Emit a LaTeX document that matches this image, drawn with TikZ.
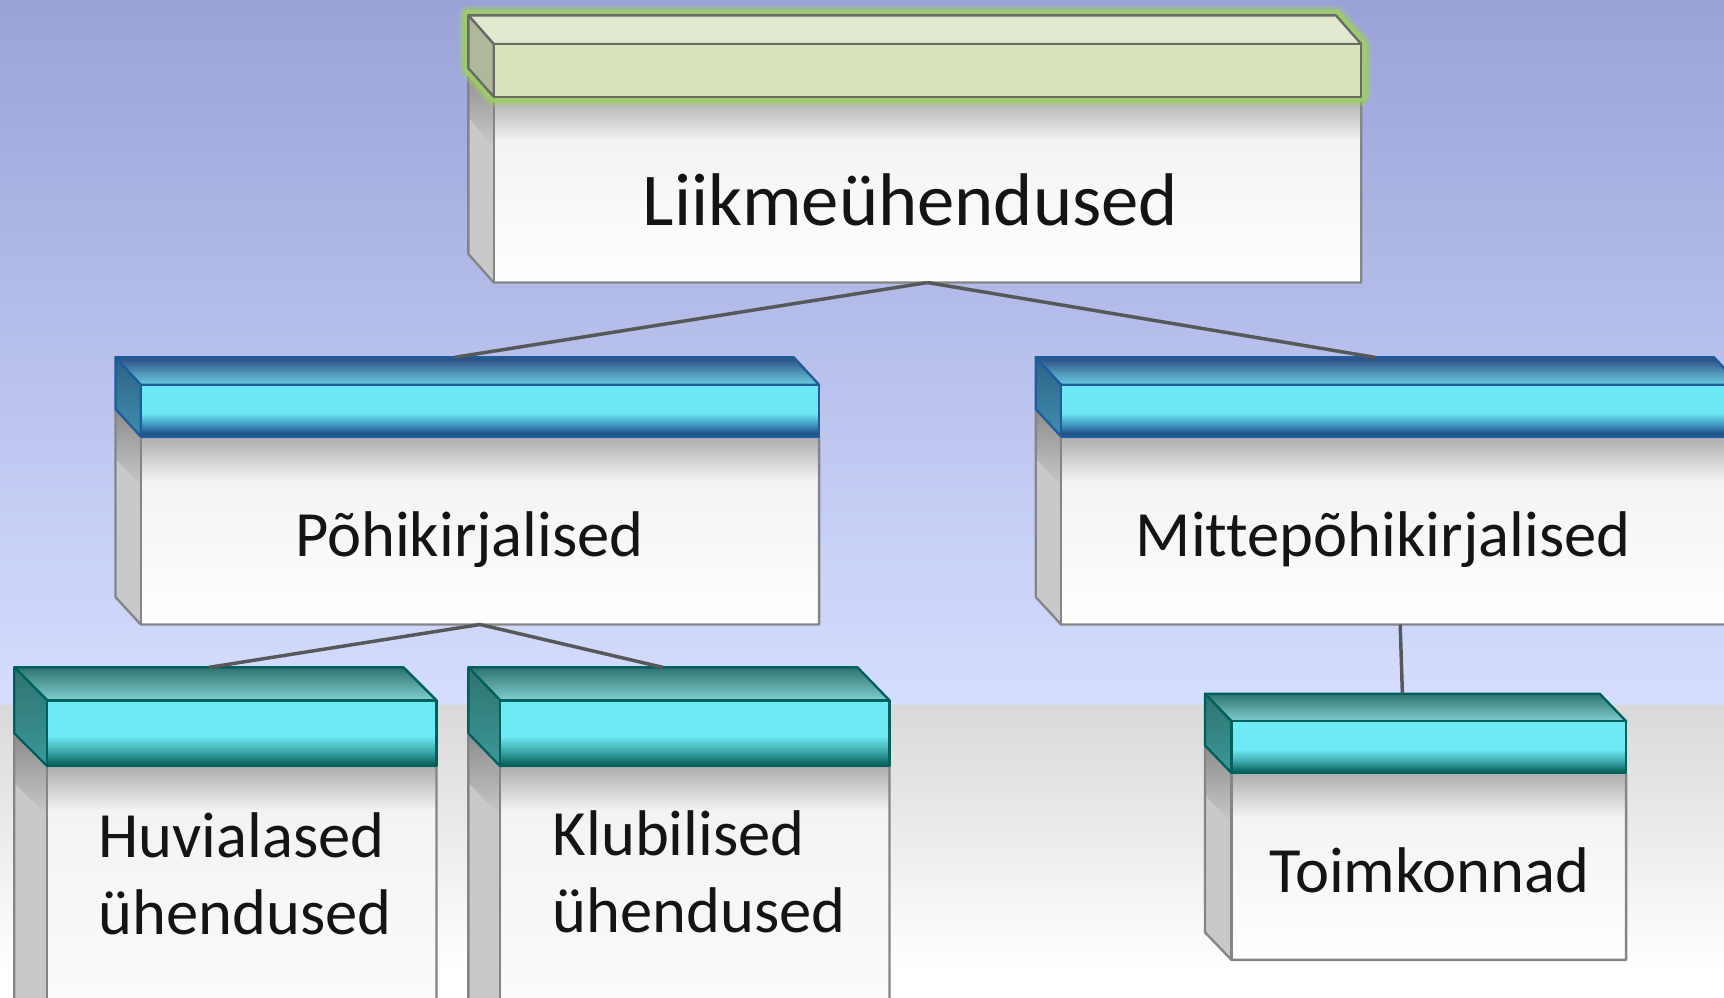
\documentclass[tikz,border=0pt]{standalone}
\usepackage{fontspec}
\setmainfont{Carlito}[Ligatures=NoCommon]
\definecolor{bnavy}{HTML}{1B3A72}
\definecolor{bmid}{HTML}{3C92BC}
\definecolor{bcyan}{HTML}{6EE8F5}
\definecolor{tdark}{HTML}{00554F}
\definecolor{tmid}{HTML}{3BA6A8}
\definecolor{tcyan}{HTML}{6EEAF5}
\definecolor{bTopA}{HTML}{2A4C82}
\definecolor{bTopB}{HTML}{6CCEE2}
\definecolor{bSideA}{HTML}{2E6285}
\definecolor{bSideM}{HTML}{58B8C6}
\definecolor{bSideB}{HTML}{3E8FB0}
\definecolor{bEdge}{HTML}{1F5C9C}
\definecolor{tTopA}{HTML}{2F7370}
\definecolor{tTopB}{HTML}{80CFD0}
\definecolor{tSideM}{HTML}{5ABCC0}
\definecolor{tSideB}{HTML}{3C9898}
\definecolor{tEdge}{HTML}{00615C}
\definecolor{gTop}{HTML}{E1E9CE}
\definecolor{gFront}{HTML}{D8E4BD}
\definecolor{gSide}{HTML}{AEB99A}
\definecolor{gEdge}{HTML}{6A6A6A}
\definecolor{gGlow}{HTML}{9ECF62}
\definecolor{bodyEdge}{HTML}{858585}
\definecolor{sideGray}{HTML}{C9C9C9}
\definecolor{sideDark}{HTML}{8C8C8C}
\definecolor{bandGray}{HTML}{ADADAD}
\definecolor{bodyLight}{HTML}{F3F3F3}
\definecolor{bgTop}{HTML}{9AA2D8}
\definecolor{bgMid}{HTML}{D5DEFF}
\definecolor{bgGray}{HTML}{D9D9D9}
\definecolor{connGray}{HTML}{585858}
\definecolor{txt}{HTML}{141414}
\pgfdeclareverticalshading{bluefront}{100bp}{color(0bp)=(bnavy); color(25bp)=(bnavy); color(36bp)=(bmid); color(48bp)=(bcyan); color(75bp)=(bcyan); color(100bp)=(bcyan)}
\pgfdeclareverticalshading{tealfront}{100bp}{color(0bp)=(tdark); color(25bp)=(tdark); color(36bp)=(tmid); color(48bp)=(tcyan); color(75bp)=(tcyan); color(100bp)=(tcyan)}
\tikzset{
  blue top/.style={top color=bTopA, bottom color=bTopB, draw=bEdge},
  blue side/.style={top color=bSideA, middle color=bSideM, bottom color=bSideB, draw=bEdge},
  blue front/.style={shading=bluefront, draw=bEdge},
  blue glow/.style={},
  blue halo/.style={},
  teal top/.style={top color=tTopA, bottom color=tTopB, draw=tEdge},
  teal side/.style={top color=tTopA, middle color=tSideM, bottom color=tSideB, draw=tEdge},
  teal front/.style={shading=tealfront, draw=tEdge},
  teal glow/.style={},
  teal halo/.style={},
  green top/.style={fill=gTop, draw=gEdge},
  green side/.style={fill=gSide, draw=gEdge},
  green front/.style={fill=gFront, draw=gEdge},
  green halo/.style={draw=gGlow, line width=5pt, opacity=.35, line join=round},
  green glow/.style={draw=gGlow, line width=3pt, opacity=.85, line join=round},
  edge/.style={draw=bodyEdge, line width=0.6pt, line join=round},
  conn/.style={draw=connGray, line width=0.9pt},
  lbl/.style={font=\fontsize{16.7}{19.9}\selectfont, text=txt, inner sep=0pt, align=left},
  lblbig/.style={font=\fontsize{19.3}{22}\selectfont, text=txt, inner sep=0pt},
}
% #1 name #2 x #3 y #4 w #5 header h #6 body h #7 dx #8 dy #9 scheme
\newcommand{\tdbox}[9]{%
  \pgfmathsetmacro\bxA{#2-#7}\pgfmathsetmacro\byA{#3-#8}%
  \pgfmathsetmacro\bxR{#2+#4}\pgfmathsetmacro\bxRA{#2+#4-#7}%
  \pgfmathsetmacro\byH{#3+#5}\pgfmathsetmacro\byB{#3+#5+#6}%
  \pgfmathsetmacro\byHA{#3+#5-#8}\pgfmathsetmacro\byBA{#3+#5+#6-#8}%
  % body side
  \fill[sideGray] (\bxA,\byHA) -- (#2,\byH) -- (#2,\byB) -- (\bxA,\byBA) -- cycle;
  \shade[top color=sideDark, bottom color=sideGray] (\bxA,\byHA) -- (#2,\byH) -- (#2,\byH+45) -- (\bxA,\byHA+45) -- cycle;
  % body front
  \shade[top color=bandGray, bottom color=bodyLight] (#2,\byH) rectangle (\bxR,\byH+40);
  \shade[top color=bodyLight, bottom color=white] (#2,\byH+40) rectangle (\bxR,\byB);
  \draw[edge] (\bxA,\byHA) -- (\bxA,\byBA) -- (#2,\byB) -- (\bxR,\byB) -- (\bxR,\byH);
  \draw[edge] (#2,\byH) -- (#2,\byB);
  % header
  \path[#9 halo] (\bxA,\byA) -- (\bxRA,\byA) -- (\bxR,#3) -- (\bxR,\byH) -- (#2,\byH) -- (\bxA,\byHA) -- cycle;
  \path[#9 glow] (\bxA,\byA) -- (\bxRA,\byA) -- (\bxR,#3) -- (\bxR,\byH) -- (#2,\byH) -- (\bxA,\byHA) -- cycle;
  \path[#9 top, line width=0.6pt, line join=round] (\bxA,\byA) -- (\bxRA,\byA) -- (\bxR,#3) -- (#2,#3) -- cycle;
  \path[#9 side, line width=0.6pt, line join=round] (\bxA,\byA) -- (#2,#3) -- (#2,\byH) -- (\bxA,\byHA) -- cycle;
  \path[#9 front, line width=0.6pt, line join=round] (#2,#3) rectangle (\bxR,\byH);
  \coordinate (#1-top) at ({#2-#7+#4/2},{#3-#8});
  \coordinate (#1-bot) at ({#2+#4/2},{#3+#5+#6});
}
\begin{document}
\begin{tikzpicture}[x=0.01cm,y=-0.01cm]
\useasboundingbox (0,0) rectangle (1568,907);
\clip (0,0) rectangle (1568,907);
% background
\shade[top color=bgTop, bottom color=bgMid] (0,0) rectangle (1568,642);
\shade[top color=bgGray, bottom color=white] (0,642) rectangle (1568,880);
\fill[white] (0,880) rectangle (1568,907);
% boxes
\tdbox{b1}{449}{40}{789}{48}{169}{23}{26}{green}
\tdbox{b2}{128}{350}{617}{47}{171}{23}{25}{blue}
\tdbox{b3}{965}{350}{617}{47}{171}{23}{25}{blue}
\tdbox{b4}{43}{637}{354}{60}{300}{30}{30}{teal}
\tdbox{b5}{455}{637}{354}{60}{300}{29}{30}{teal}
\tdbox{b6}{1120}{656}{359}{47}{170}{24}{25}{teal}
% texts
\node[lblbig, anchor=base] (t1) at (828,205) {Liikmeühendused};
\node[lbl, anchor=base] (t2) at (427,506) {Põhikirjalised};
\node[lbl, anchor=base] (t3) at (1258,506) {Mittepõhikirjalised};
\node[lbl] (t4) at (223,795) {Huvialased\\ühendused};
\node[lbl] (t5) at (636,793) {Klubilised\\ühendused};
\node[lbl, anchor=base] (t6) at (1300,812) {Toimkonnad};
% connectors
\draw[conn] (b1-bot) -- (b2-top);
\draw[conn] (b1-bot) -- (b3-top);
\draw[conn] (b2-bot) -- (b4-top);
\draw[conn] (b2-bot) -- (b5-top);
\draw[conn] (b3-bot) -- (b6-top);
\end{tikzpicture}
\end{document}
